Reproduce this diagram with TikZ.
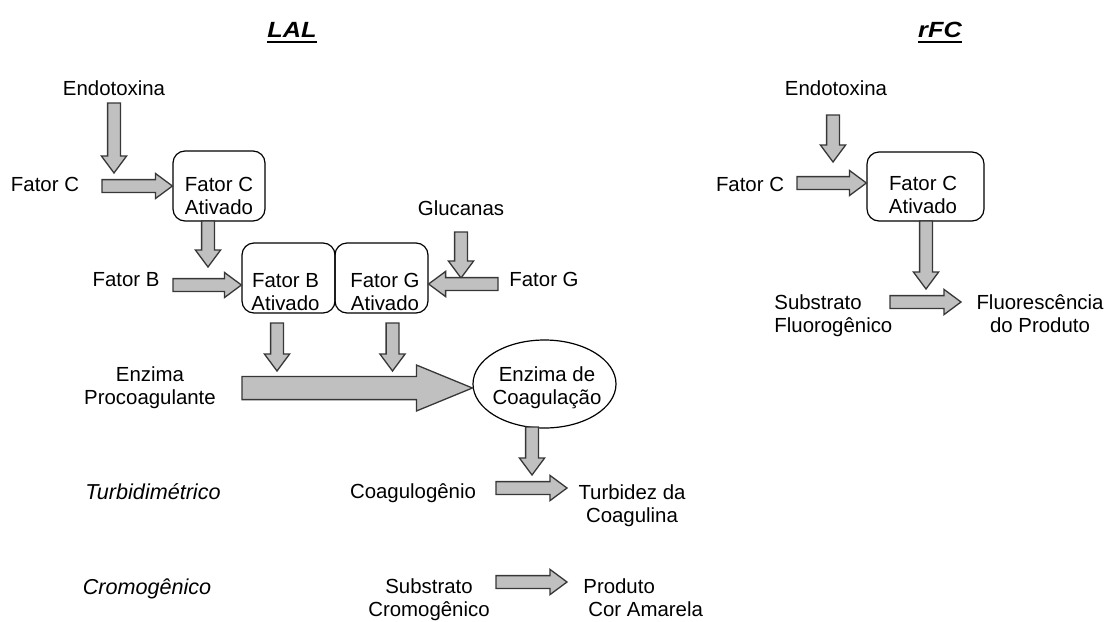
\documentclass[tikz,border=0pt]{standalone}
\usepackage{fontspec}
\setmainfont{Liberation Sans}
\usetikzlibrary{calc,shapes.geometric}

\definecolor{arrowfill}{RGB}{192,192,192}
\definecolor{arrowline}{RGB}{55,55,55}

\tikzset{
  lbl/.style={anchor=base, inner sep=0pt, align=center,
    font=\fontsize{10.2}{11.5}\selectfont},
  lblleft/.style={lbl, align=left, anchor=base west},
  lblit/.style={lbl, font=\fontsize{10.8}{12}\selectfont\itshape},
  titletext/.style={anchor=base, inner sep=0pt,
    font=\fontsize{11}{13}\selectfont\bfseries\itshape},
  procbox/.style={draw=black, line width=0.6pt, rounded corners=6pt,
    minimum width=#1, minimum height=35pt, inner sep=0pt},
  procbox/.default=46pt,
  ovalbox/.style={draw=black, line width=0.6pt, ellipse, inner sep=0pt,
    minimum width=71.5pt, minimum height=44pt},
  fatarrow/.style={draw=arrowline, fill=arrowfill, line width=0.65pt, line join=miter}
}

% block arrow from #1 to #2: shaft half-width #3, head half-width #4, head length #5
\newcommand{\fatarrowp}[5]{%
  \coordinate (fa-h) at ($(#2)!#5!(#1)$);
  \draw[fatarrow] ($(#1)!#3!90:(#2)$) -- ($(fa-h)!#3!90:(#2)$)
    -- ($(fa-h)!#4!90:(#2)$) -- (#2) -- ($(fa-h)!#4!-90:(#2)$)
    -- ($(fa-h)!#3!-90:(#2)$) -- ($(#1)!#3!-90:(#2)$) -- cycle;}
\newcommand{\fatarrow}[2]{\fatarrowp{#1}{#2}{3.2pt}{6.3pt}{8.5pt}}

\begin{document}
\begin{tikzpicture}[x=0.5pt,y=-0.5pt]
\useasboundingbox (0,0) rectangle (1106,621);

% ---------- titles ----------
\node[titletext] (lal) at (292,37) {\scalebox{1.15}[1]{LAL}};
\draw[line width=1pt] ([yshift=-2.3pt]lal.base west) -- ([yshift=-2.3pt]lal.base east);
\node[titletext] (rfc) at (940,37) {\scalebox{1.15}[1]{rFC}};
\draw[line width=1pt] ([yshift=-2.3pt]rfc.base west) -- ([yshift=-2.3pt]rfc.base east);

% ---------- LAL cascade ----------
\node[procbox=46pt] (fcaL) at (219,186) {};
\node[procbox=46.5pt] (fcbL) at (288.5,278) {};
\node[procbox=46.5pt] (fcgL) at (381.5,278) {};
\node[ovalbox] (ecoag) at (544.5,384) {};

% multi-line labels are placed by the baseline of their last line
\node[lbl] (endoL) at (114,95) {Endotoxina};
\node[lbl] (fcL) at (45,191) {Fator C};
\node[lbl] (fcaLt) at (219,214) {Fator C\\Ativado};
\node[lbl] (fbL) at (126,286) {Fator B};
\node[lbl] (fcbLt) at (285.5,310) {Fator B\\Ativado};
\node[lbl] (fcgLt) at (385,310) {Fator G\\Ativado};
\node[lbl] (glucL) at (461,215) {Glucanas};
\node[lbl] (fgL) at (544,286) {Fator G};
\node[lbl] (enzP) at (150,404) {Enzima\\Procoagulante};
\node[lbl] (ecoagt) at (547,404) {Enzima de\\Coagula\c{c}\~ao};
\node[lblit] (turb) at (153,499) {Turbidim\'etrico};
\node[lbl] (coag) at (413,498) {Coagulog\^enio};
\node[lbl] (turbc) at (632,522) {Turbidez da\\Coagulina};
\node[lblit] (crom) at (147,594) {Cromog\^enico};
\node[lbl] (subc) at (429,616) {Substrato\\Cromog\^enico};
\node[lblleft] (prod) at (583,616) {Produto\\\hspace{2.5pt}Cor Amarela};

% arrow end points
\coordinate (l1s) at (114,103);  \coordinate (l1e) at (114,173);
\coordinate (l2s) at (102,186);  \coordinate (l2e) at (fcaL.west);
\coordinate (l3s) at (208,221);  \coordinate (l3e) at (208,267);
\coordinate (l4s) at (173,285);  \coordinate (l4e) at (fcbL.west |- l4s);
\coordinate (l5s) at (461,232);  \coordinate (l5e) at (461,278);
\coordinate (l6s) at (498,284);  \coordinate (l6e) at (fcgL.east |- l6s);
\coordinate (l7s) at (277,323);  \coordinate (l7e) at (277,371);
\coordinate (l8s) at (392.5,323);\coordinate (l8e) at (392.5,371);
\coordinate (l9s) at (242,388);  \coordinate (l9e) at (ecoag.west |- l9s);
\coordinate (l10s) at (532,427); \coordinate (l10e) at (532,475);
\coordinate (l11s) at (496,488); \coordinate (l11e) at (567,488);
\coordinate (l12s) at (496,582); \coordinate (l12e) at (567,582);

\fatarrow{l1s}{l1e}
\fatarrow{l2s}{l2e}
\fatarrow{l3s}{l3e}
\fatarrow{l4s}{l4e}
\fatarrow{l5s}{l5e}
\fatarrow{l6s}{l6e}
\fatarrow{l7s}{l7e}
\fatarrow{l8s}{l8e}
\fatarrowp{l9s}{l9e}{5.8pt}{11.5pt}{28pt}
\fatarrow{l10s}{l10e}
\fatarrow{l11s}{l11e}
\fatarrow{l12s}{l12e}

% ---------- rFC assay ----------
\node[procbox=58.5pt, minimum height=34.5pt] (fcaR) at (925.5,186.5) {};

\node[lbl] (endoR) at (836,95) {Endotoxina};
\node[lbl] (fcR) at (750,191) {Fator C};
\node[lbl] (fcaRt) at (923,213) {Fator C\\Ativado};
\node[lblleft] (subf) at (774,332) {Substrato\\Fluorog\^enico};
\node[lbl] (fluo) at (1040,332) {Fluoresc\^encia\\do Produto};

\coordinate (r1s) at (833,115);  \coordinate (r1e) at (833,162);
\coordinate (r2s) at (797,183);  \coordinate (r2e) at (fcaR.west |- r2s);
\coordinate (r3s) at (926,221);  \coordinate (r3e) at (926,289);
\coordinate (r4s) at (890,302);  \coordinate (r4e) at (961,302);

\fatarrow{r1s}{r1e}
\fatarrow{r2s}{r2e}
\fatarrow{r3s}{r3e}
\fatarrow{r4s}{r4e}
\end{tikzpicture}
\end{document}
